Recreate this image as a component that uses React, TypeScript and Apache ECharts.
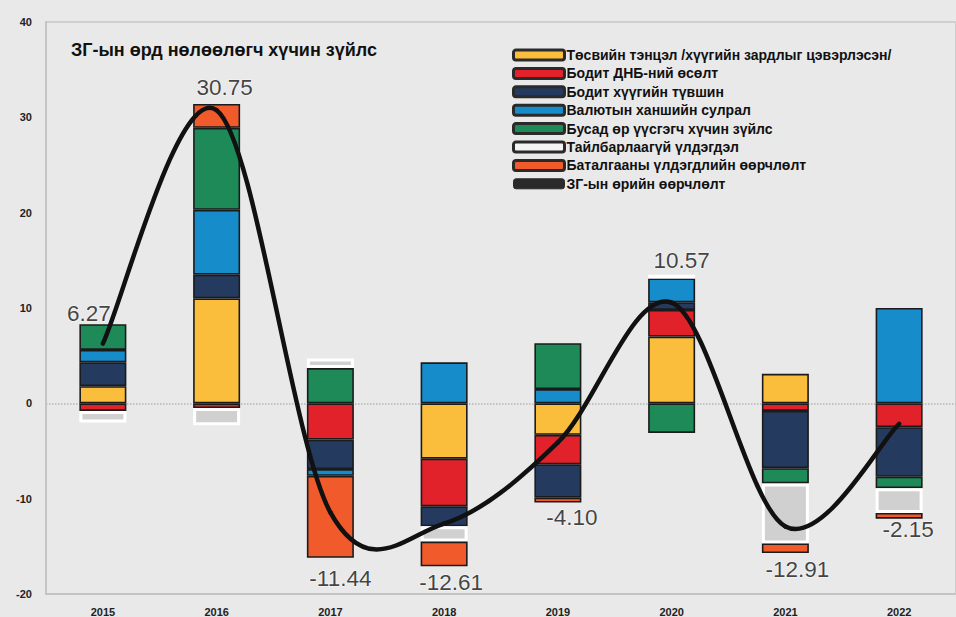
import React, { useEffect, useRef } from "react";
import * as echarts from "echarts";

const years = ["2015", "2016", "2017", "2018", "2019", "2020", "2021", "2022"];

const budgetBalance = [1.8, 11.0, 0, -5.8, -3.3, 7.0, 3.1, 0];
const realGdpGrowth = [-0.8, -0.5, -3.8, -5.0, -3.1, 2.8, -0.8, -2.5];
const realInterest = [2.5, 2.5, -3.1, -2.1, -3.5, 0.8, -6.0, -5.2];
const exchangeRate = [1.3, 6.8, -0.7, 4.3, 1.5, 2.5, 0, 10.0];
const otherFactors = [2.7, 8.6, 3.7, 0, 4.8, -3.1, -1.6, -1.2];
const unexplained = [-1.2, -1.8, 1.0, -1.6, 0, 0.4, -6.3, -2.6];
const guarantees = [0, 2.5, -8.6, -2.6, -0.5, 0, -1.0, -0.6];
const debtChange = [6.27, 30.75, -11.44, -12.61, -4.1, 10.57, -12.91, -2.15];

const yTicks = [-20, -10, 0, 10, 20, 30, 40];

const names = [
  "Төсвийн тэнцэл /хүүгийн зардлыг цэвэрлэсэн/",
  "Бодит ДНБ-ний өсөлт",
  "Бодит хүүгийн түвшин",
  "Валютын ханшийн сулрал",
  "Бусад өр үүсгэгч хүчин зүйлс",
  "Тайлбарлаагүй үлдэгдэл",
  "Баталгааны үлдэгдлийн өөрчлөлт",
  "ЗГ-ын өрийн өөрчлөлт",
];

const colors = ["#FBBE3C", "#E2222B", "#243A5F", "#168CCB", "#1D8A58", "#D0D0D0", "#F15A2A"];

const labelOffsets: number[][] = [
  [-14, 6], [8, 0], [10, 4], [7, 0], [14, -1], [10, 2], [12, 0], [9, -6],
];

const FONT = "Liberation Sans, Arial, sans-serif";

export default function App() {
  const ref = useRef<HTMLDivElement>(null);
  useEffect(() => {
    if (!ref.current) return;
    const chart = echarts.init(ref.current, undefined, { renderer: "svg" });
    const stacks = [budgetBalance, realGdpGrowth, realInterest, exchangeRate, otherFactors, unexplained, guarantees];

    const barSeries = stacks.map((arr, i) => ({
      name: names[i],
      type: "bar",
      stack: "total",
      barWidth: 47,
      data: arr.map((v) => (v === 0 ? "-" : v)),
      itemStyle:
        i === 5
          ? { color: colors[i], borderColor: "#ffffff", borderWidth: 3 }
          : { color: colors[i], borderColor: "#1b1b1b", borderWidth: 1.6 },
      z: 2,
    }));

    const anchors = years.map((_, k) => {
      let pos = 0;
      let neg = 0;
      stacks.forEach((arr) => {
        if (arr[k] > 0) pos += arr[k];
        else neg += arr[k];
      });
      return debtChange[k] > 0 ? pos : neg;
    });

    const n = debtChange.length;
    const renderCurve = (params: any, api: any) => {
      const i = params.dataIndex;
      if (i >= n - 1) return null;
      const pt = (k: number) => {
        const c = Math.max(0, Math.min(n - 1, k));
        return api.coord([c, debtChange[c]]);
      };
      const p0 = pt(i - 1);
      const p1 = pt(i);
      const p2 = pt(i + 1);
      const p3 = pt(i + 2);
      return {
        type: "bezierCurve",
        shape: {
          x1: p1[0],
          y1: p1[1],
          x2: p2[0],
          y2: p2[1],
          cpx1: p1[0] + (p2[0] - p0[0]) / 6,
          cpy1: p1[1] + (p2[1] - p0[1]) / 6,
          cpx2: p2[0] - (p3[0] - p1[0]) / 6,
          cpy2: p2[1] - (p3[1] - p1[1]) / 6,
        },
        style: { stroke: "#111", lineWidth: 4.5, fill: null, lineCap: "round" },
      };
    };

    const option = {
      animation: false,
      backgroundColor: "#e9e9e9",
      textStyle: { fontFamily: FONT },
      title: {
        text: "ЗГ-ын өрд нөлөөлөгч хүчин зүйлс",
        left: 66,
        top: 36,
        textStyle: { fontSize: 18, fontWeight: "bold", color: "#111", fontFamily: FONT },
      },
      legend: {
        orient: "vertical",
        left: 507,
        top: 43,
        itemWidth: 51,
        itemHeight: 10,
        itemGap: 4.4,
        selectedMode: false,
        textStyle: {
          fontSize: 14,
          lineHeight: 14,
          fontWeight: "bold",
          color: "#111",
          fontFamily: FONT,
          padding: [0, 0, 0, -3],
        },
        data: names.map((nm, i) => ({
          name: nm,
          icon: "roundRect",
          itemStyle:
            i < 7
              ? { color: i === 5 ? "#f4f4f4" : colors[i], borderColor: "#2a2a2a", borderWidth: 3 }
              : { color: "#2a2a2a", borderColor: "#2a2a2a", borderWidth: 1 },
        })),
      },
      grid: {
        left: 46,
        top: 22,
        width: 924,
        height: 572,
        show: true,
        borderColor: "#cfcfcf",
        borderWidth: 2,
        backgroundColor: "transparent",
      },
      xAxis: {
        type: "category",
        data: years,
        axisLine: { show: true, lineStyle: { color: "#c4c4c4", width: 2 }, onZero: false },
        axisTick: { show: false },
        axisLabel: { fontSize: 11, fontWeight: "bold", color: "#222", margin: 12, fontFamily: FONT },
      },
      yAxis: {
        type: "value",
        min: yTicks[0],
        max: yTicks[yTicks.length - 1],
        interval: 10,
        axisLine: { show: true, lineStyle: { color: "#c4c4c4", width: 2 } },
        axisTick: { show: false },
        axisLabel: { fontSize: 11, fontWeight: "bold", color: "#222", margin: 14, fontFamily: FONT },
        splitLine: {
          show: true,
          lineStyle: {
            type: "dotted",
            width: 1.5,
            color: yTicks.map((t) => (t === 0 ? "#b5b5b5" : "rgba(0,0,0,0)")),
          },
        },
      },
      series: [
        ...barSeries,
        {
          name: names[7],
          type: "custom",
          renderItem: renderCurve,
          data: debtChange.map((v, k) => [k, v]),
          encode: { x: 0, y: 1 },
          itemStyle: { color: "#2a2a2a" },
          silent: true,
          z: 5,
        },
        {
          name: "labels",
          type: "scatter",
          symbolSize: 0,
          silent: true,
          z: 6,
          data: anchors.map((a, k) => ({
            value: a,
            label: {
              show: true,
              position: debtChange[k] > 0 ? "top" : "bottom",
              distance: 5,
              offset: labelOffsets[k],
              formatter: () => debtChange[k].toFixed(2),
              fontSize: 22.5,
              color: "#141414",
              fontFamily: FONT,
              textBorderColor: "#f6f6f6",
              textBorderWidth: 1.5,
            },
          })),
        },
      ],
    };
    chart.setOption(option as any);
    return () => chart.dispose();
  }, []);
  return (
    <div
      ref={ref}
      style={{ position: "absolute", left: 0, top: 0, width: 956, height: 617, overflow: "hidden" }}
    />
  );
}
